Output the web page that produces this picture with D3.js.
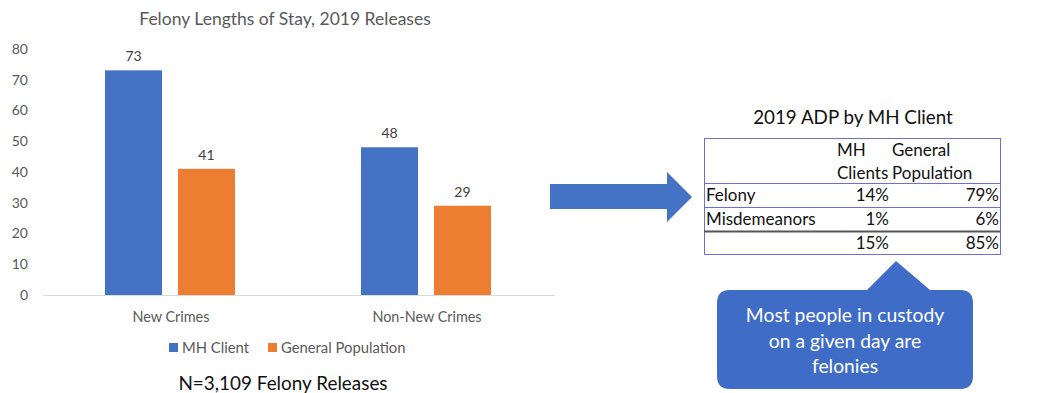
<!DOCTYPE html>
<html>
<head>
<meta charset="utf-8">
<script src="https://cdn.jsdelivr.net/npm/d3@7"></script>
<style>
  html, body { margin: 0; padding: 0; background: #fff; }
  svg { display: block; font-family: Lato, "Open Sans", sans-serif; }
</style>
</head>
<body>
<svg id="chart" width="1037" height="393"></svg>
<script>
// Felony lengths of stay (days), 2019 releases
const categories = ["New Crimes", "Non-New Crimes"];
const seriesNames = ["MH Client", "General Population"];
const mhClient = [73, 48];
const generalPopulation = [41, 29];
const yTicks = [0, 10, 20, 30, 40, 50, 60, 70, 80];

// 2019 average daily population table
const adpRowLabels = ["Felony", "Misdemeanors", ""];
const adpMH = [14, 1, 15];
const adpGeneral = [79, 6, 85];

const calloutLines = ["Most people in custody", "on a given day are", "felonies"];

const BLUE = "#4472C4";
const ORANGE = "#ED7D31";

const svg = d3.select("#chart");

// ---- Bar chart ----
const y = d3.scaleLinear().domain([0, 80]).range([295, 48.8]);
const x0 = d3.scaleBand().domain(categories).range([43, 555]);
const x1 = d3.scaleBand().domain(seriesNames).range([62, 192]).paddingInner(0.219);
const color = d3.scaleOrdinal().domain(seriesNames).range([BLUE, ORANGE]);

svg.append("text")
  .attr("x", 285).attr("y", 24.5)
  .attr("text-anchor", "middle")
  .attr("font-size", 17.5).attr("fill", "#595959")
  .text("Felony Lengths of Stay, 2019 Releases");

const yAxis = svg.append("g")
  .attr("transform", "translate(30,0)")
  .call(d3.axisLeft(y).tickValues(yTicks).tickSize(0).tickPadding(2));
yAxis.select(".domain").remove();
yAxis.selectAll("text")
  .attr("font-size", 14).attr("fill", "#595959")
  .attr("font-family", "Lato, 'Open Sans', sans-serif");

const rows = categories.map((c, i) => ({
  category: c,
  values: [
    { series: seriesNames[0], value: mhClient[i] },
    { series: seriesNames[1], value: generalPopulation[i] }
  ]
}));

const groups = svg.selectAll("g.group")
  .data(rows).join("g")
  .attr("class", "group")
  .attr("transform", d => `translate(${x0(d.category)},0)`);

groups.selectAll("rect")
  .data(d => d.values).join("rect")
  .attr("x", d => x1(d.series))
  .attr("width", x1.bandwidth())
  .attr("y", d => y(d.value))
  .attr("height", d => y(0) - y(d.value))
  .attr("fill", d => color(d.series));

groups.selectAll("text.val")
  .data(d => d.values).join("text")
  .attr("class", "val")
  .attr("x", d => x1(d.series) + x1.bandwidth() / 2)
  .attr("y", d => y(d.value) - 9)
  .attr("text-anchor", "middle")
  .attr("font-size", 14).attr("fill", "#404040")
  .text(d => d.value);

// baseline
svg.append("line")
  .attr("x1", x0.range()[0]).attr("x2", x0.range()[1])
  .attr("y1", y(0) + 0.5).attr("y2", y(0) + 0.5)
  .attr("stroke", "#d9d9d9").attr("stroke-width", 1);

// category labels
svg.selectAll("text.cat")
  .data(categories).join("text")
  .attr("class", "cat")
  .attr("x", d => x0(d) + x0.bandwidth() / 2)
  .attr("y", 321.5)
  .attr("text-anchor", "middle")
  .attr("font-size", 14.4).attr("fill", "#595959")
  .text(d => d);

// legend
const legendX = [169, 268];
const legend = svg.selectAll("g.legend")
  .data(seriesNames).join("g")
  .attr("class", "legend")
  .attr("transform", (d, i) => `translate(${legendX[i]},343)`);
legend.append("rect")
  .attr("width", 9).attr("height", 9)
  .attr("fill", d => color(d));
legend.append("text")
  .attr("x", 13).attr("y", 10)
  .attr("font-size", 14.8).attr("fill", "#595959")
  .text(d => d);

svg.append("text")
  .attr("x", 283).attr("y", 389.5)
  .attr("text-anchor", "middle")
  .attr("font-size", 18.9).attr("fill", "#111")
  .text("N=3,109 Felony Releases");

// ---- Arrow ----
svg.append("path")
  .attr("d", "M550,184 L667,184 L667,172 L692,197 L667,222 L667,209 L550,209 Z")
  .attr("fill", BLUE);

// ---- ADP table ----
const tbl = { left: 704, right: 1000, top: 138 };
const rowEdges = [138, 183, 207, 231, 254];

svg.append("text")
  .attr("x", 853).attr("y", 123.5)
  .attr("text-anchor", "middle")
  .attr("font-size", 18.8).attr("fill", "#111")
  .text("2019 ADP by MH Client");

svg.append("rect")
  .attr("x", tbl.left + 0.5).attr("y", rowEdges[0] + 0.5)
  .attr("width", tbl.right - tbl.left).attr("height", rowEdges[4] - rowEdges[0])
  .attr("fill", "none").attr("stroke", "#6b6fd6").attr("stroke-width", 1);

svg.selectAll("line.rowline")
  .data(rowEdges.slice(1, 4)).join("line")
  .attr("class", "rowline")
  .attr("x1", tbl.left).attr("x2", tbl.right)
  .attr("y1", d => d + 0.5).attr("y2", d => d + 0.5)
  .attr("stroke", (d, i) => i === 2 ? "#555" : "#6b6fd6")
  .attr("stroke-width", (d, i) => i === 2 ? 2 : 1);

const cellFont = 17;
// header
svg.append("text").attr("x", 837).attr("y", 156).attr("font-size", cellFont).attr("fill", "#111").text("MH");
svg.append("text").attr("x", 837).attr("y", 179).attr("font-size", cellFont).attr("fill", "#111").text("Clients");
svg.append("text").attr("x", 892).attr("y", 156).attr("font-size", cellFont).attr("fill", "#111").text("General");
svg.append("text").attr("x", 892).attr("y", 179).attr("font-size", cellFont).attr("fill", "#111").text("Population");

const fmtPct = d => d + "%";
const bodyRows = adpRowLabels.map((label, i) => ({ label, mh: adpMH[i], gen: adpGeneral[i], yMid: (rowEdges[i + 1] + rowEdges[i + 2]) / 2 }));

const tr = svg.selectAll("g.trow").data(bodyRows).join("g").attr("class", "trow");
tr.append("text")
  .attr("x", 706).attr("y", d => d.yMid + 6)
  .attr("font-size", cellFont).attr("fill", "#111")
  .text(d => d.label);
tr.append("text")
  .attr("x", 889).attr("y", d => d.yMid + 6)
  .attr("text-anchor", "end")
  .attr("font-size", cellFont).attr("fill", "#111")
  .text(d => fmtPct(d.mh));
tr.append("text")
  .attr("x", 999).attr("y", d => d.yMid + 6)
  .attr("text-anchor", "end")
  .attr("font-size", cellFont).attr("fill", "#111")
  .text(d => fmtPct(d.gen));

// ---- Callout ----
const cb = { x: 717, y: 290, w: 256, h: 99, r: 13 };
const apex = [896, 261];
const baseL = 867, baseR = 930;
const calloutPath = `M${cb.x + cb.r},${cb.y} L${baseL},${cb.y} L${apex[0]},${apex[1]} L${baseR},${cb.y} ` +
  `L${cb.x + cb.w - cb.r},${cb.y} Q${cb.x + cb.w},${cb.y} ${cb.x + cb.w},${cb.y + cb.r} ` +
  `L${cb.x + cb.w},${cb.y + cb.h - cb.r} Q${cb.x + cb.w},${cb.y + cb.h} ${cb.x + cb.w - cb.r},${cb.y + cb.h} ` +
  `L${cb.x + cb.r},${cb.y + cb.h} Q${cb.x},${cb.y + cb.h} ${cb.x},${cb.y + cb.h - cb.r} ` +
  `L${cb.x},${cb.y + cb.r} Q${cb.x},${cb.y} ${cb.x + cb.r},${cb.y} Z`;
svg.append("path").attr("d", calloutPath).attr("fill", "#3f6cc6");

svg.selectAll("text.callout")
  .data(calloutLines).join("text")
  .attr("class", "callout")
  .attr("x", 845).attr("y", (d, i) => 322 + i * 25.5)
  .attr("text-anchor", "middle")
  .attr("font-size", 19.3).attr("fill", "#fff")
  .text(d => d);
</script>
</body>
</html>
